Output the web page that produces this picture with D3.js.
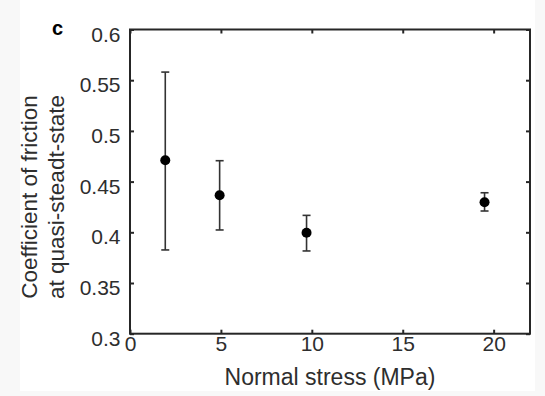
<!DOCTYPE html>
<html>
<head>
<meta charset="utf-8">
<script src="https://cdn.jsdelivr.net/npm/d3@7"></script>
<style>
  html, body { margin: 0; padding: 0; background: #f8f8f8; }
  svg { display: block; }
</style>
</head>
<body>
<script>
// Data
const stress = [1.94, 4.93, 9.71, 19.5];
const friction = [0.471, 0.4365, 0.3995, 0.4296];
const errUpper = [0.558, 0.4706, 0.4167, 0.439];
const errLower = [0.3826, 0.4023, 0.3816, 0.421];
const xTicks = [0, 5, 10, 15, 20];
const yTicks = [0.3, 0.35, 0.4, 0.45, 0.5, 0.55, 0.6];
const xTickLabels = ["0", "5", "10", "15", "20"];
const yTickLabels = ["0.3", "0.35", "0.4", "0.45", "0.5", "0.55", "0.6"];

const W = 545, H = 396;
const L = 130, R = 530, T = 29.5, B = 333.7;
const font = "'Liberation Sans', Arial, Helvetica, sans-serif";

const svg = d3.select("body").append("svg").attr("width", W).attr("height", H);
svg.append("rect").attr("x", 0).attr("y", 0).attr("width", W).attr("height", H).attr("fill", "#f8f8f8");
svg.append("rect").attr("x", 20).attr("y", 0).attr("width", 515).attr("height", 391).attr("fill", "#ffffff");

const x = d3.scaleLinear().domain([0, 22]).range([L, R]);
const y = d3.scaleLinear().domain([0.3, 0.6]).range([B, T]);

const tickLen = 4;
const axisColor = "#262626";

const gx = svg.append("g").attr("transform", `translate(0,${B})`)
  .call(d3.axisBottom(x).tickValues(xTicks).tickFormat((d, i) => xTickLabels[i]).tickSizeInner(-tickLen).tickSizeOuter(0).tickPadding(7));
const gxt = svg.append("g").attr("transform", `translate(0,${T})`)
  .call(d3.axisTop(x).tickValues(xTicks).tickFormat("").tickSizeInner(-tickLen).tickSizeOuter(0));
const gy = svg.append("g").attr("transform", `translate(${L},0)`)
  .call(d3.axisLeft(y).tickValues(yTicks).tickFormat((d, i) => yTickLabels[i]).tickSizeInner(-tickLen).tickSizeOuter(0).tickPadding(9));
const gyr = svg.append("g").attr("transform", `translate(${R},0)`)
  .call(d3.axisRight(y).tickValues(yTicks).tickFormat("").tickSizeInner(-tickLen).tickSizeOuter(0));

[gx, gxt, gy, gyr].forEach(g => {
  g.select(".domain").remove();
  g.selectAll(".tick line").attr("stroke", axisColor).attr("stroke-width", 2);
  g.selectAll("text").style("font-family", font).style("font-size", "21px").attr("fill", "#2e2e2e");
});
gx.selectAll(".tick text").attr("dy", "0.71em").attr("y", 2.5);
gy.selectAll(".tick text").attr("dy", "0.55em").attr("x", -9.5);

svg.append("rect").attr("x", L).attr("y", T).attr("width", R - L).attr("height", B - T)
  .attr("fill", "none").attr("stroke", axisColor).attr("stroke-width", 2);

const data = stress.map((s, i) => ({ s, f: friction[i], hi: errUpper[i], lo: errLower[i] }));
const eb = svg.append("g").attr("stroke", "#333333").attr("stroke-width", 1.6);
eb.selectAll("line.v").data(data).join("line").attr("class", "v")
  .attr("x1", d => x(d.s)).attr("x2", d => x(d.s)).attr("y1", d => y(d.hi)).attr("y2", d => y(d.lo));
eb.selectAll("line.cu").data(data).join("line").attr("class", "cu")
  .attr("x1", d => x(d.s) - 4).attr("x2", d => x(d.s) + 4).attr("y1", d => y(d.hi)).attr("y2", d => y(d.hi));
eb.selectAll("line.cl").data(data).join("line").attr("class", "cl")
  .attr("x1", d => x(d.s) - 4).attr("x2", d => x(d.s) + 4).attr("y1", d => y(d.lo)).attr("y2", d => y(d.lo));

svg.append("g").selectAll("circle").data(data).join("circle")
  .attr("cx", d => x(d.s)).attr("cy", d => y(d.f)).attr("r", 5).attr("fill", "#000000");

svg.append("text").attr("x", (L + R) / 2).attr("y", 385)
  .attr("text-anchor", "middle").style("font-family", font).style("font-size", "23px").attr("fill", "#2e2e2e")
  .text("Normal stress (MPa)");

const yl = svg.append("text").attr("transform", `translate(0,197) rotate(-90)`)
  .attr("text-anchor", "middle").style("font-family", font).style("font-size", "22.5px").attr("fill", "#2e2e2e");
yl.append("tspan").attr("x", 0).attr("y", 37).text("Coefficient of friction");
yl.append("tspan").attr("x", 0).attr("y", 64).text("at quasi-steadt-state");

svg.append("text").attr("x", 52).attr("y", 35).style("font-family", font).style("font-weight", "bold")
  .style("font-size", "20px").attr("fill", "#000000").text("c");
</script>
</body>
</html>
